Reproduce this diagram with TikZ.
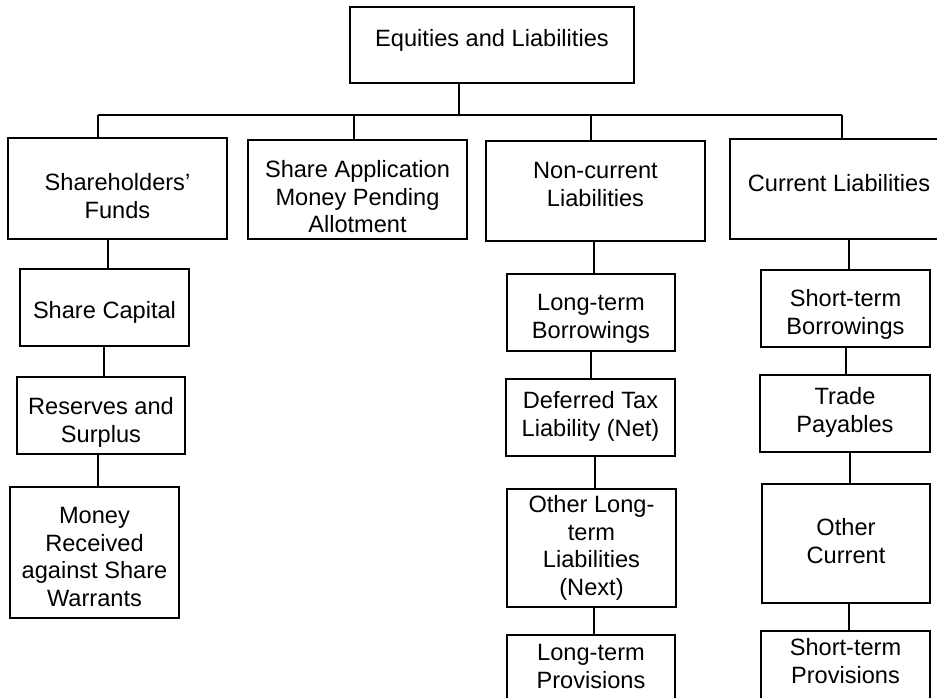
\documentclass[tikz,border=0pt]{standalone}
\usepackage{fontspec}
\setmainfont{Liberation Sans}
\usetikzlibrary{calc}

% vertical connector from a parent box down to a child box, offset dx from the child's centre
\newcommand\treestem[3]{%
  \draw[link] ($(#2.north)+(#3,0)$) -- ($(#2.north |- #1.south)+(#3,0)$);}

\begin{document}
\begin{tikzpicture}[x=1pt,y=-1pt,
  box/.style={draw, line width=1.6pt, inner sep=0pt, minimum width=#1},
  box/.default=169pt,
  lbl/.style={anchor=north, inner sep=0pt, align=center,
    font=\fontsize{23.6}{27.6}\selectfont},
  link/.style={line width=2.4pt}]
\useasboundingbox (0,0) rectangle (937,697);
\clip (0,0) rectangle (937,697);

% boxes
\node[box=284pt, minimum height=76pt]  (top) at (492,45) {};
\node[box=219pt, minimum height=101pt] (sf)  at (117.5,188.5) {};
\node[box=219pt, minimum height=99pt]  (sa)  at (357.5,189.5) {};
\node[box=219pt, minimum height=100pt] (nc)  at (595.5,191) {};
\node[box=218pt, minimum height=100pt] (cl)  at (839,189) {};

\node[box, minimum height=77pt]  (sc) at (104.5,307.5) {};
\node[box=168pt, minimum height=77pt]  (rs) at (101,415.5) {};
\node[box, minimum height=131pt] (mr) at (94.5,552.5) {};

\node[box=168pt, minimum height=77pt]  (lb) at (591,312.5) {};
\node[box, minimum height=77pt]  (dt) at (590.5,417.5) {};
\node[box, minimum height=118pt] (ol) at (591.5,548) {};
\node[box=168pt, minimum height=77pt]  (lp) at (591,673.5) {};

\node[box, minimum height=77pt]  (sb) at (845.5,308.5) {};
\node[box=170pt, minimum height=77pt]  (tp) at (845,413.5) {};
\node[box=168pt, minimum height=119pt] (oc) at (846,543.5) {};
\node[box, minimum height=77pt]  (sp) at (845.5,669.5) {};

% labels
\node[lbl] (t-top) at (492,27.25)   {\strut Equities and Liabilities};
\node[lbl] (t-sf)  at (117.5,171.25) {\strut Shareholders’\\Funds};
\node[lbl] (t-sa)  at (357.5,158.25) {\strut Share Application\\Money Pending\\Allotment};
\node[lbl] (t-nc)  at (595.5,159.25) {\strut Non-current\\Liabilities};
\node[lbl] (t-cl)  at (839,172.25)  {\strut Current Liabilities};

\node[lbl] (t-sc)  at (104.5,299.25) {\strut Share Capital};
\node[lbl] (t-rs)  at (101,395.25)   {\strut Reserves and\\Surplus};
\node[lbl] (t-mr)  at (94.5,504.25)  {\strut Money\\Received\\against Share\\Warrants};

\node[lbl] (t-lb)  at (591,291.25)   {\strut Long-term\\Borrowings};
\node[lbl] (t-dt)  at (590.5,389.25) {\strut Deferred Tax\\Liability (Net)};
\node[lbl] (t-ol)  at (591.5,493.25) {\strut Other Long-\\term\\Liabilities\\(Next)};
\node[lbl] (t-lp)  at (591,641.25)   {\strut Long-term\\Provisions};

\node[lbl] (t-sb)  at (845.5,287.25) {\strut Short-term\\Borrowings};
\node[lbl] (t-tp)  at (845,385.25)   {\strut Trade\\Payables};
\node[lbl] (t-oc)  at (846,516.25)   {\strut Other\\Current};
\node[lbl] (t-sp)  at (845.5,636.25) {\strut Short-term\\Provisions};

% top-level bus
\coordinate (busL) at (98,115);
\coordinate (busR) at (842,115);
\draw[link] ($(top.south)+(-33,0)$) -- ($(top.south |- busL)+(-33,0)$);
\draw[link] (busL) -- (busR);
\draw[link] ($(sf.north)+(-19.5,0)$) -- ($(sf.north |- busL)+(-19.5,0)$);
\draw[link] ($(sa.north)+(-3.5,0)$)  -- ($(sa.north |- busL)+(-3.5,0)$);
\draw[link] ($(nc.north)+(-4.5,0)$)  -- ($(nc.north |- busL)+(-4.5,0)$);
\draw[link] ($(cl.north)+(3,0)$)     -- ($(cl.north |- busL)+(3,0)$);

% column stems
\treestem{sf}{sc}{3.5}
\treestem{sc}{rs}{3}
\treestem{rs}{mr}{3.5}

\treestem{nc}{lb}{3}
\treestem{lb}{dt}{0.5}
\treestem{dt}{ol}{3.5}
\treestem{ol}{lp}{3}

\treestem{cl}{sb}{3.5}
\treestem{sb}{tp}{1}
\treestem{tp}{oc}{4}
\treestem{oc}{sp}{3.5}
\end{tikzpicture}
\end{document}
